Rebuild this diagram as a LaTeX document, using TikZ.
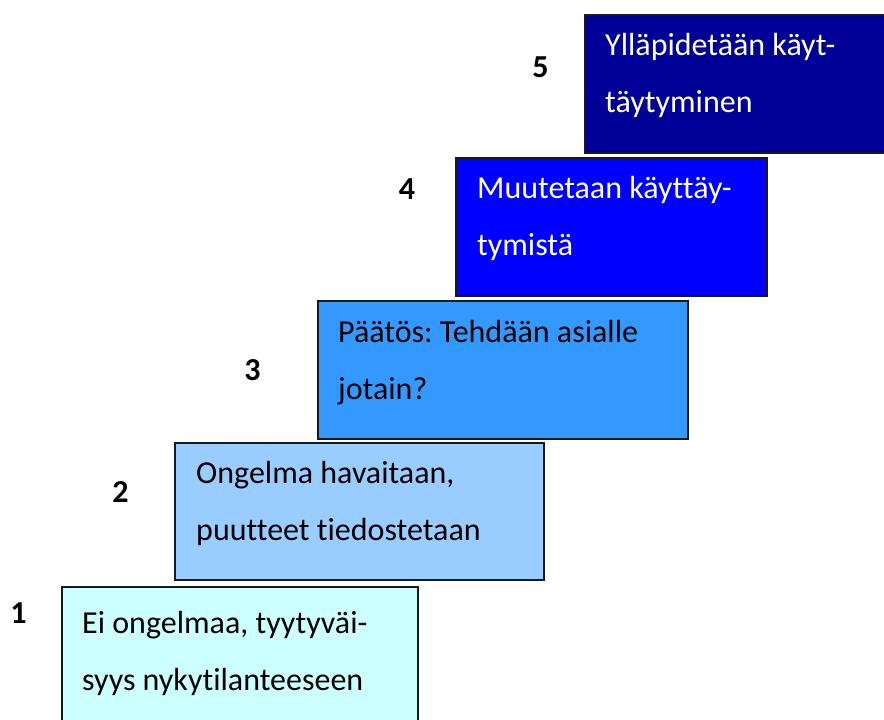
\documentclass[tikz,border=0pt]{standalone}
\usepackage{fontspec}
\setmainfont{Carlito}[Ligatures={NoCommon},RawFeature={-liga;-clig}]
\frenchspacing
\definecolor{c1}{HTML}{CCFFFF}
\definecolor{c2}{HTML}{99CCFF}
\definecolor{c3}{HTML}{3399FF}
\definecolor{c4}{HTML}{0000FF}
\definecolor{c5}{HTML}{000099}
\begin{document}
\begin{tikzpicture}[x=1pt,y=-1pt,
  stepbox/.style={draw=black!90,line width=1.6pt,rectangle,inner sep=0pt,anchor=north west},
  boxtext/.style={anchor=base west,inner sep=0pt,font=\fontsize{32}{57.5}\selectfont},
  numlabel/.style={inner sep=0pt,font=\fontsize{32}{38}\selectfont\bfseries}]
\useasboundingbox (0,0) rectangle (884,720);
\clip (0,0) rectangle (884,720);
\fill[white] (0,0) rectangle (884,720);
\node[stepbox,fill=c1,minimum width=356pt,minimum height=160pt] (b1) at (61,586) {};
\node[stepbox,fill=c2,minimum width=369pt,minimum height=137pt] (b2) at (174,442) {};
\node[stepbox,fill=c3,minimum width=370pt,minimum height=138pt] (b3) at (317,300) {};
\node[stepbox,fill=c4,minimum width=311pt,minimum height=138pt] (b4) at (455,157) {};
\node[stepbox,fill=c5,minimum width=320pt,minimum height=138pt] (b5) at (584,14) {};
\node[boxtext] (t1) at (82,633) {\vtop{\baselineskip=57.5pt\hbox{Ei ongelmaa, tyytyväi-}\hbox{syys nykytilanteeseen}}};
\node[boxtext] (t2) at (196,483) {\vtop{\baselineskip=57.5pt\hbox{Ongelma havaitaan,}\hbox{puutteet tiedostetaan}}};
\node[boxtext] (t3) at (338,342) {\vtop{\baselineskip=57.5pt\hbox{Päätös: Tehdään asialle}\hbox{jotain?}}};
\node[boxtext,text=white] (t4) at (477,198) {\vtop{\baselineskip=57.5pt\hbox{Muutetaan käyttäy-}\hbox{tymistä}}};
\node[boxtext,text=white] (t5) at (605,55) {\vtop{\baselineskip=57.5pt\hbox{Ylläpidetään käyt-}\hbox{täytyminen}}};
\node[numlabel] (n1) at (18.5,613.5) {1};
\node[numlabel] (n2) at (120.5,492) {2};
\node[numlabel] (n3) at (252.5,370) {3};
\node[numlabel] (n4) at (407,189) {4};
\node[numlabel] (n5) at (540.5,67.5) {5};
\end{tikzpicture}
\end{document}
